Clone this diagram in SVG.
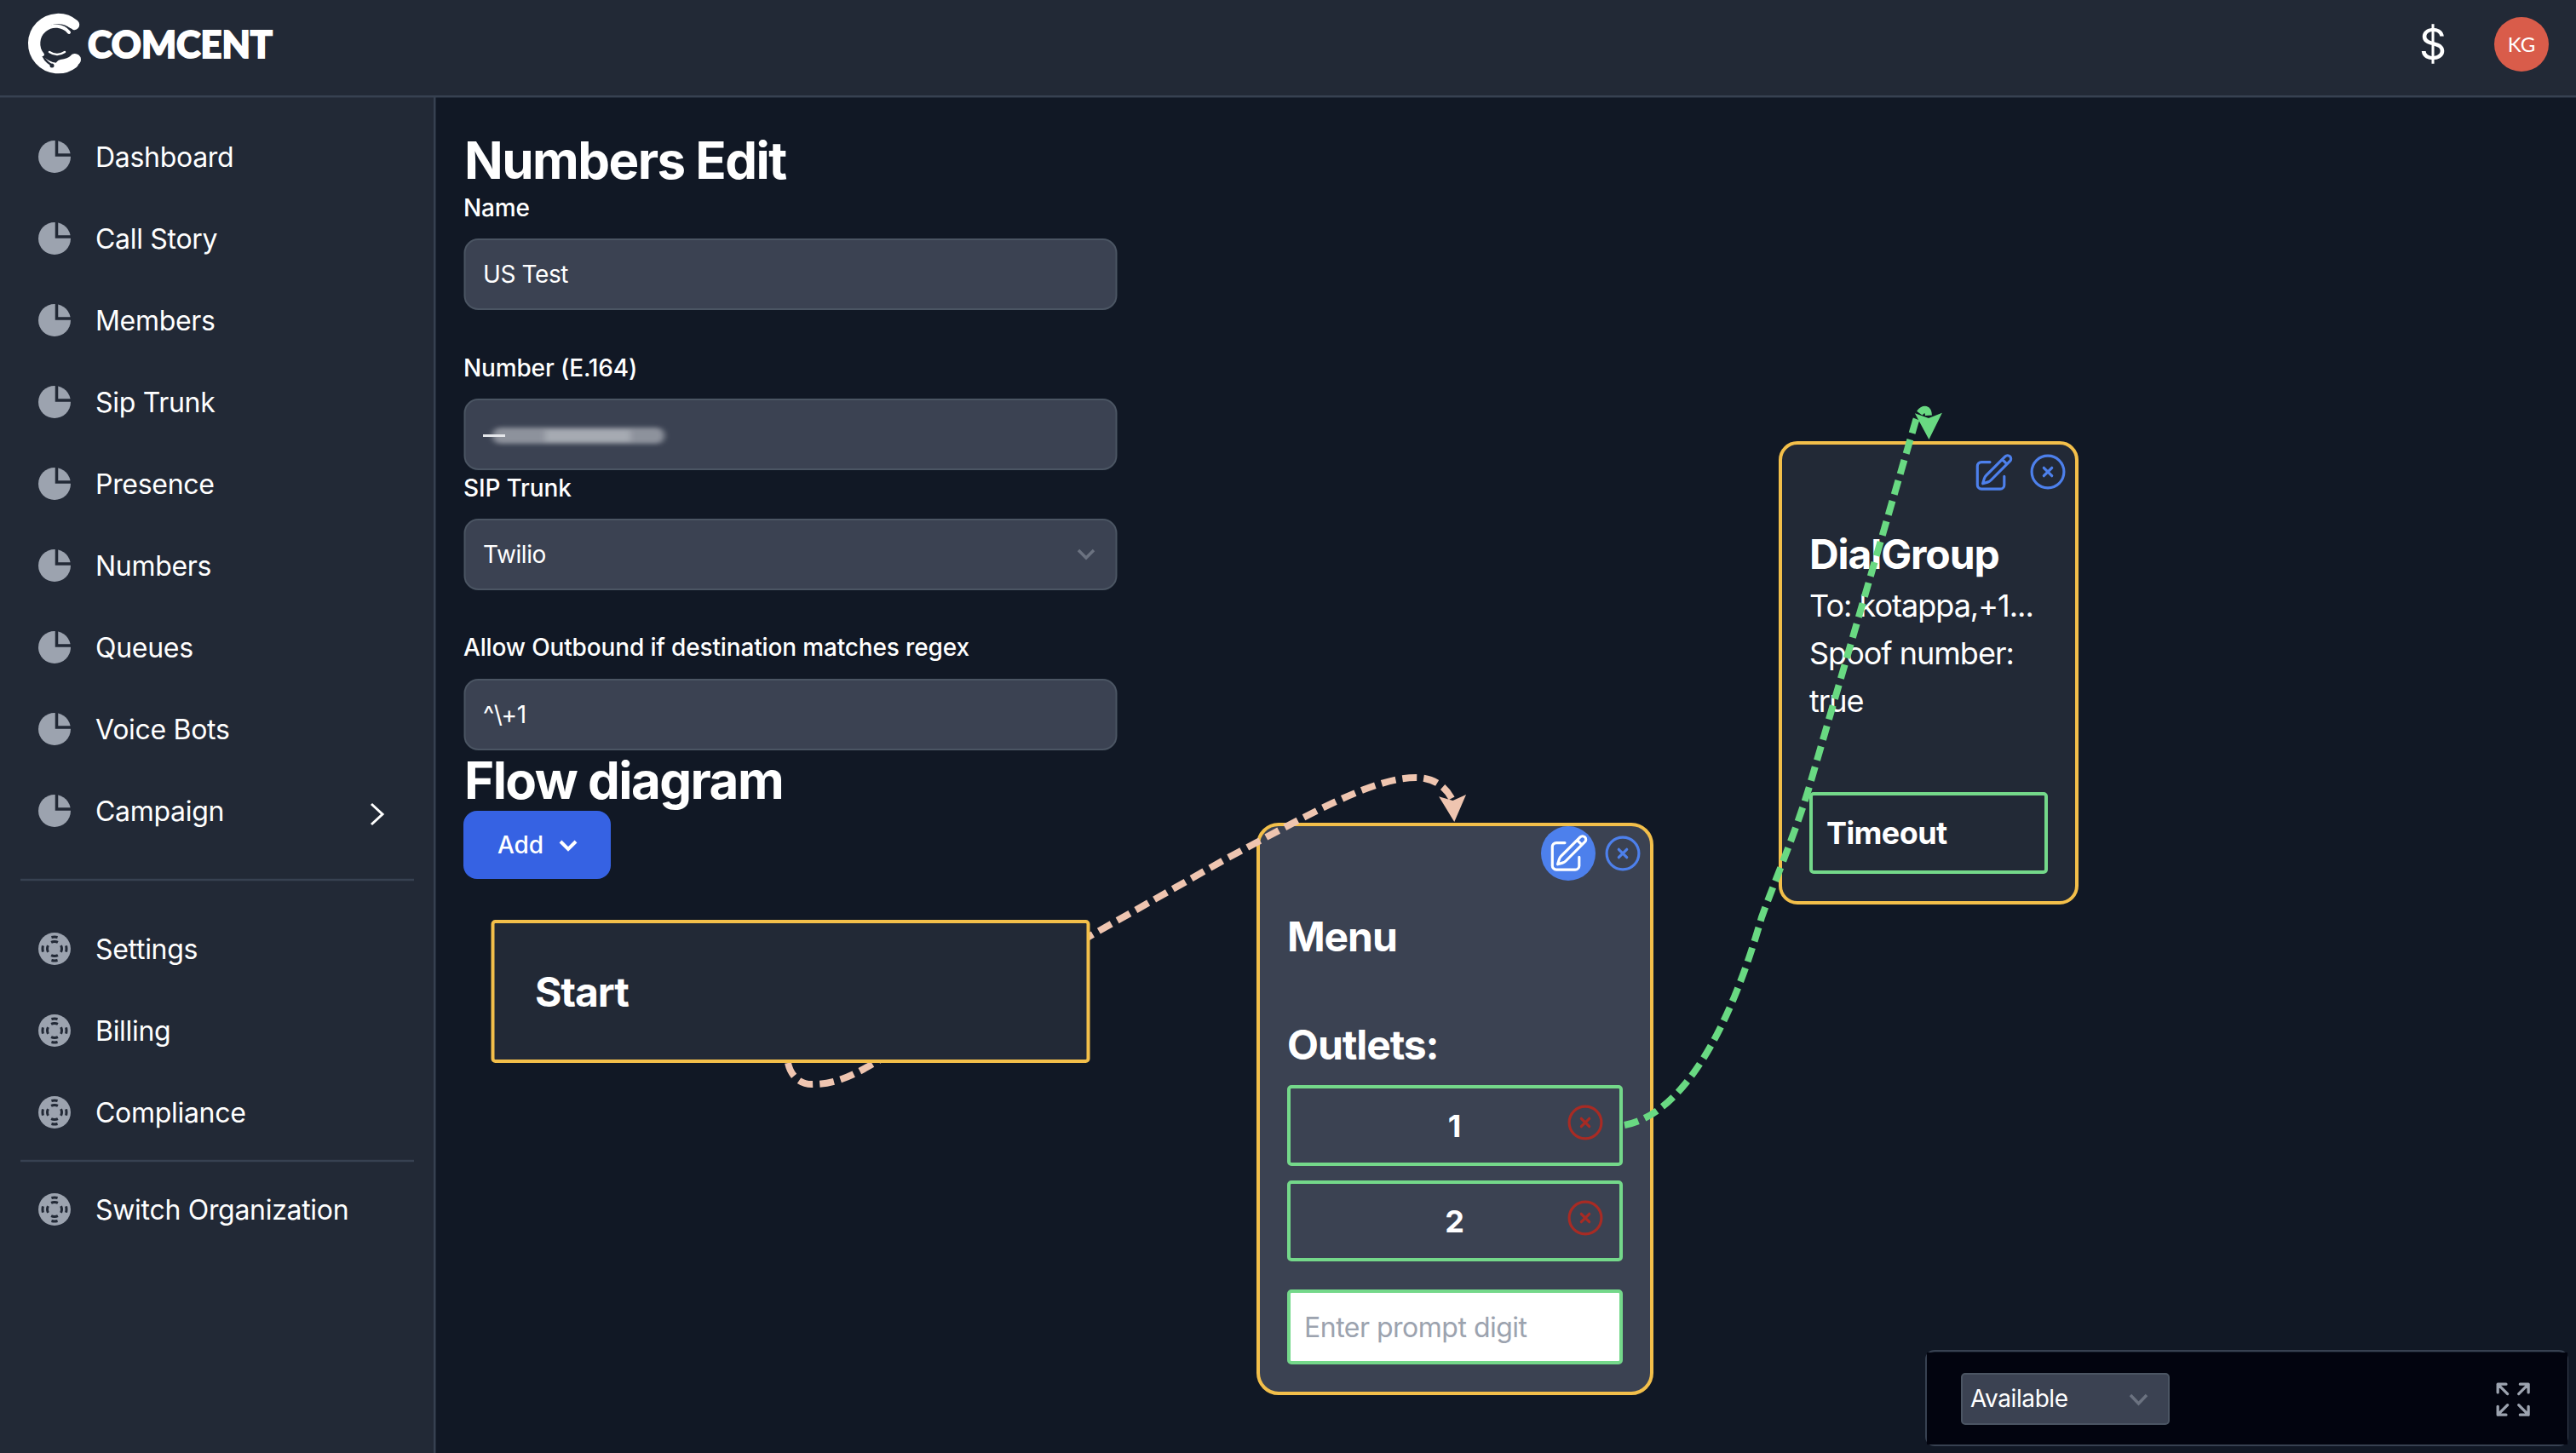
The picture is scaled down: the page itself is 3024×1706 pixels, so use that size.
<svg xmlns="http://www.w3.org/2000/svg" xmlns:xlink="http://www.w3.org/1999/xlink" width="3024" height="1706" viewBox="0 0 3024 1706">
<style>
text{font-family:Inter,"Liberation Sans",sans-serif;fill:#fff}
.m{font-size:32px;letter-spacing:-.3px}
.l{font-size:28px;font-weight:500;letter-spacing:-.15px}
.v{font-size:28px;letter-spacing:-.4px}
.h{font-size:60px;font-weight:700;letter-spacing:-1.55px}
.n{font-size:48px;font-weight:700;letter-spacing:-1.1px}
.d{font-size:36px;letter-spacing:-1px}
.field{fill:#3b4252;stroke:#4b5563;stroke-width:2}
.node{stroke:#f3bf4a;stroke-width:4}
.out{fill:#3b4252;stroke:#74d88a;stroke-width:4}
.ic{fill:none;stroke-linecap:round;stroke-linejoin:round;stroke-width:1.5}
.div{stroke:#374151;stroke-width:2.5}
.conn{fill:none;stroke-width:8;stroke-dasharray:17 8}
</style>
<defs>
<g id="pie"><circle r="19" fill="#9ca3af"/><path d="M2.500 -21V-2H21" fill="none" stroke="#222936" stroke-width="3.500"/></g>
<g id="buoy"><circle r="19" fill="#9ca3af"/><circle r="14" fill="none" stroke="#222936" stroke-width="3" pathLength="360" stroke-dasharray="30 60" stroke-dashoffset="15"/><circle r="8.500" fill="none" stroke="#222936" stroke-width="3" pathLength="360" stroke-dasharray="55 35" stroke-dashoffset="27.500"/></g>
<g id="pencil" class="ic" transform="scale(2.1)"><path d="M16.862 4.487l1.687-1.688a1.875 1.875 0 112.652 2.652L10.582 16.070a4.500 4.500 0 01-1.897 1.130L6 18l.8-2.685a4.500 4.500 0 011.130-1.897l8.932-8.931zm0 0L19.500 7.125M18 14v4.750A2.250 2.250 0 0115.750 21H5.250A2.250 2.250 0 013 18.750V8.250A2.250 2.250 0 015.250 6H10"/></g>
<g id="xc" class="ic" transform="scale(2.1) translate(-12 -12)"><circle cx="12" cy="12" r="9"/><path d="M9.750 9.750l4.500 4.500m0-4.500l-4.500 4.500"/></g>
<marker id="ap" markerUnits="userSpaceOnUse" markerWidth="34" markerHeight="36" refX="6" refY="17" orient="86" overflow="visible"><path d="M0 1L31 17L0 33L6 17Z" fill="#efc5b0"/></marker>
<marker id="ag" markerUnits="userSpaceOnUse" markerWidth="34" markerHeight="36" refX="6" refY="17" orient="89" overflow="visible"><path d="M0 1L31 17L0 33L6 17Z" fill="#69d982"/></marker>
<filter id="smear" x="-20%" y="-100%" width="140%" height="300%"><feGaussianBlur stdDeviation="3.500 2.500"/></filter>
</defs>
<rect width="3024" height="1706" fill="#111825"/>
<g id="sidebar">
<rect width="509" height="1706" fill="#222936"/>
<rect x="509" y="112" width="2.500" height="1594" fill="#374151"/>
<use xlink:href="#pie" href="#pie" x="64" y="184"/><text class="m" x="112" y="196">Dashboard</text>
<use xlink:href="#pie" href="#pie" x="64" y="280"/><text class="m" x="112" y="292">Call Story</text>
<use xlink:href="#pie" href="#pie" x="64" y="376"/><text class="m" x="112" y="388">Members</text>
<use xlink:href="#pie" href="#pie" x="64" y="472"/><text class="m" x="112" y="484">Sip Trunk</text>
<use xlink:href="#pie" href="#pie" x="64" y="568"/><text class="m" x="112" y="580">Presence</text>
<use xlink:href="#pie" href="#pie" x="64" y="664"/><text class="m" x="112" y="676">Numbers</text>
<use xlink:href="#pie" href="#pie" x="64" y="760"/><text class="m" x="112" y="772">Queues</text>
<use xlink:href="#pie" href="#pie" x="64" y="856"/><text class="m" x="112" y="868">Voice Bots</text>
<use xlink:href="#pie" href="#pie" x="64" y="952"/><text class="m" x="112" y="964">Campaign</text>
<path d="M436 944L449 956L436 968" fill="none" stroke="#fff" stroke-width="3"/>
<line class="div" x1="24" x2="486" y1="1033" y2="1033"/>
<use xlink:href="#buoy" href="#buoy" x="64" y="1114"/><text class="m" x="112" y="1126">Settings</text>
<use xlink:href="#buoy" href="#buoy" x="64" y="1210"/><text class="m" x="112" y="1222">Billing</text>
<use xlink:href="#buoy" href="#buoy" x="64" y="1306"/><text class="m" x="112" y="1318">Compliance</text>
<line class="div" x1="24" x2="486" y1="1363" y2="1363"/>
<use xlink:href="#buoy" href="#buoy" x="64" y="1420"/><text class="m" x="112" y="1432">Switch Organization</text>
</g>
<g id="topbar">
<rect width="3024" height="112" fill="#222936"/>
<rect y="112" width="3024" height="2.500" fill="#374151"/>
<g id="logo" fill="none" stroke-linecap="round">
<path d="M87 29A29 29 0 1 0 86 74" stroke="#fff" stroke-width="12.500"/>
<path d="M72 77Q84 75 88 70" stroke="#fff" stroke-width="14"/>
<path d="M84 35A23 23 0 1 0 60 76" stroke="#222936" stroke-width="2.500"/>
<path d="M81 38A19 19 0 0 0 50 64" stroke="#fff" stroke-width="4"/>
<path d="M58 61Q67 67 76 61" stroke="#fff" stroke-width="2.500"/>
<circle cx="61" cy="77" r="2.500" fill="#222936"/>
</g>
<text x="103" y="68" style="font-family:Lato,'Liberation Sans',sans-serif;font-weight:900;font-size:43px;stroke:#fff;stroke-width:1.800px" textLength="217" lengthAdjust="spacingAndGlyphs">COMCENT</text>
<text x="2856" y="70" text-anchor="middle" style="font-size:50px;font-weight:400">$</text>
<circle cx="2960" cy="52" r="32" fill="#d95c4a"/>
<text x="2960" y="60.500" text-anchor="middle" style="font-family:Lato,'Liberation Sans',sans-serif;font-size:24px">KG</text>
</g>
<g id="form">
<text class="h" x="545" y="210">Numbers Edit</text>
<text class="l" x="544" y="254">Name</text>
<rect class="field" x="545.500" y="281" width="765" height="82" rx="16"/>
<text class="v" x="567" y="332">US Test</text>
<text class="l" x="544" y="442">Number (E.164)</text>
<rect class="field" x="545.500" y="469" width="765" height="82" rx="16"/>
<g filter="url(#smear)"><rect x="578" y="502" width="202" height="19" rx="9" fill="#8d929c"/><rect x="640" y="505" width="100" height="14" fill="#a6aab2"/></g>
<rect x="567" y="510" width="26" height="3" fill="#e4e6ea"/>
<text class="l" x="544" y="583">SIP Trunk</text>
<rect class="field" x="545.500" y="610" width="765" height="82" rx="16"/>
<text class="v" x="567" y="661">Twilio</text>
<path d="M1266 646L1275 655L1284 646" fill="none" stroke="#6b7280" stroke-width="3.500"/>
<text class="l" x="544" y="770">Allow Outbound if destination matches regex</text>
<rect class="field" x="545.500" y="798" width="765" height="82" rx="16"/>
<text class="v" x="567" y="849">^\+1</text>
<text class="h" x="545" y="938">Flow diagram</text>
<g id="add"><rect x="544" y="952" width="173" height="80" rx="16" fill="#3662e3"/>
<text class="l" x="584" y="1002">Add</text>
<path d="M658 988L667 997L676 988" fill="none" stroke="#fff" stroke-width="4"/></g>
</g>
<g id="node-menu">
<rect class="node" x="1477" y="968" width="462" height="668" rx="24" fill="#3b4252"/>
<circle cx="1841" cy="1002" r="32" fill="#4d80ec"/>
<use xlink:href="#pencil" href="#pencil" x="1816" y="977" stroke="#fff"/>
<use xlink:href="#xc" href="#xc" x="1905" y="1002" stroke="#4d80ec"/>
<text class="n" x="1511" y="1117">Menu</text>
<text class="n" x="1511" y="1244">Outlets:</text>
<g id="outlet-1"><rect class="out" x="1513" y="1276" width="390" height="91" rx="3"/>
<text x="1707.500" y="1335" text-anchor="middle" style="font-size:36px;font-weight:700">1</text>
<use xlink:href="#xc" href="#xc" x="1861" y="1318" stroke="#a82b24"/></g>
<g id="outlet-2"><rect class="out" x="1513" y="1388" width="390" height="91" rx="3"/>
<text x="1707.500" y="1447" text-anchor="middle" style="font-size:36px;font-weight:700">2</text>
<use xlink:href="#xc" href="#xc" x="1861" y="1430" stroke="#a82b24"/></g>
<rect x="1513" y="1516" width="390" height="84" rx="3" fill="#fff" stroke="#74d88a" stroke-width="4"/>
<text x="1531" y="1570" style="font-size:32px;fill:#9ca3af;letter-spacing:-.5px">Enter prompt digit</text>
</g>
<g id="node-dialgroup">
<rect class="node" x="2090" y="520" width="348" height="540" rx="20" fill="#222936"/>
<use xlink:href="#pencil" href="#pencil" x="2315" y="530" stroke="#4d80ec"/>
<use xlink:href="#xc" href="#xc" x="2404" y="554" stroke="#4d80ec"/>
<text class="n" x="2124" y="668">DialGroup</text>
<text class="d" x="2124" y="724">To: kotappa,+1...</text>
<text class="d" x="2124" y="780">Spoof number:</text>
<text class="d" x="2124" y="836">true</text>
<g id="outlet-timeout"><rect x="2126" y="932" width="276" height="92" rx="3" fill="#222936" stroke="#74d88a" stroke-width="4"/>
<text x="2144" y="991" style="font-size:36px;font-weight:700;letter-spacing:-.6px">Timeout</text></g>
</g>
<g id="connectors">
<path class="conn" stroke="#efc5b0" marker-end="url(#ap)" d="M925 1248C928 1262 938 1274 955 1273C985 1273 1010 1258 1040 1240L1283 1097L1440 1008C1530 960 1610 913 1662 913C1685 913 1698 925 1705.500 940"/>
<path class="conn" stroke="#69d982" marker-end="url(#ag)" d="M1907 1321C1975 1308 2030 1210 2068 1077C2085 1030 2105 985 2123 927L2248 497C2251 486 2256 480 2261 481C2264 482 2264 487 2264 491"/>
</g>
<g id="node-start">
<rect class="node" x="578.500" y="1082" width="699" height="164" rx="3" fill="#222936"/>
<text class="n" x="628" y="1182">Start</text>
</g>
<g id="status">
<rect x="2261" y="1586" width="753" height="111" rx="10" fill="#111825" stroke="#374151" stroke-width="2"/>
<rect x="2262" y="1588" width="752" height="108" fill="#02040f"/>
<rect x="2303" y="1613" width="243" height="59" rx="4" fill="#3b4252" stroke="#4b5563" stroke-width="2"/>
<text class="v" x="2313" y="1652">Available</text>
<path d="M2501 1638L2510.500 1648L2520 1638" fill="none" stroke="#6b7280" stroke-width="3.500"/>
<g class="ic" stroke="#9ca3af" transform="translate(2924 1617) scale(2.18)"><path d="M3.750 3.750v4.500m0-4.500h4.500m-4.500 0L9 9M3.750 20.250v-4.500m0 4.500h4.500m-4.500 0L9 15M20.250 3.750h-4.500m4.500 0v4.500m0-4.500L15 9m5.250 11.250h-4.500m4.500 0v-4.500m0 4.500L15 15"/></g>
</g>
</svg>
